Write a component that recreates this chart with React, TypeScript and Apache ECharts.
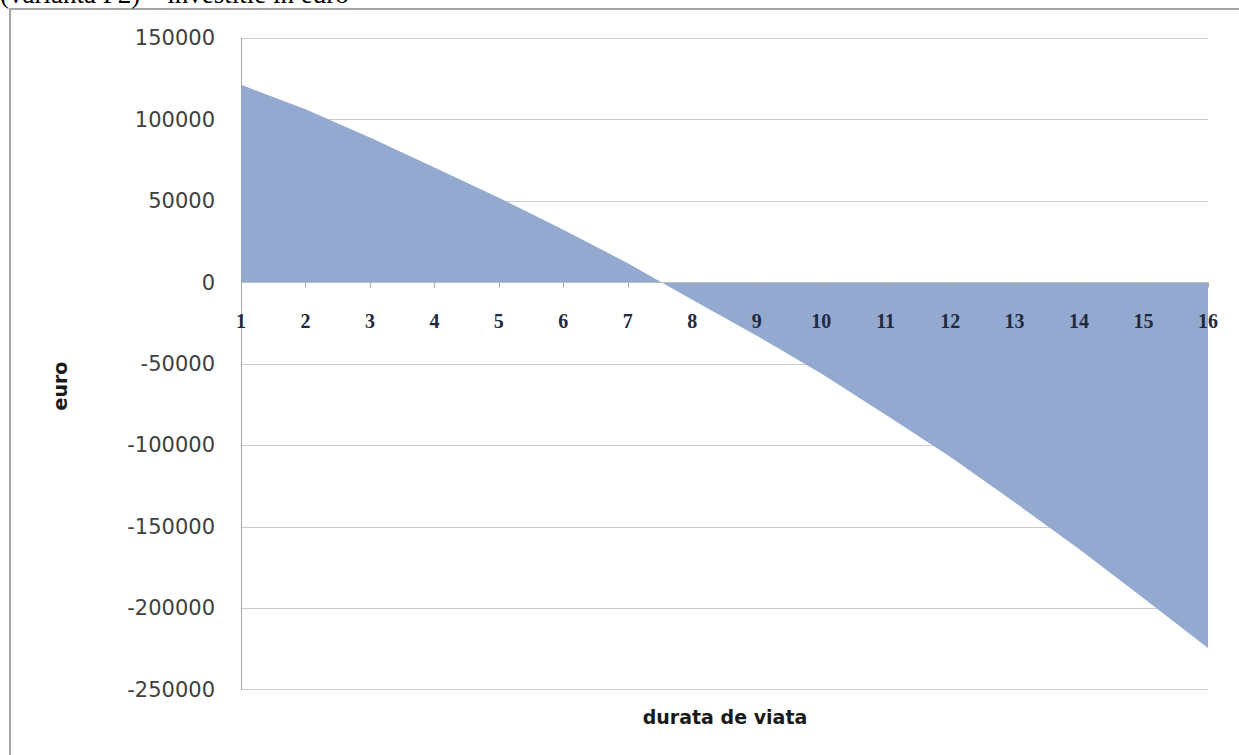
import React, { useEffect, useRef } from "react";
import * as echarts from "echarts";

const years = ["1", "2", "3", "4", "5", "6", "7", "8", "9", "10", "11", "12", "13", "14", "15", "16"];
const values = [121500, 106500, 89000, 70700, 52100, 32400, 11900, -10500, -32700, -55900, -81200, -107000, -135000, -163600, -193900, -224500];
const yTitle = "euro";
const xTitle = "durata de viata";
const topText = "(varianta P2) – investitie in euro";

const Y_MIN = -250000;
const Y_MAX = 150000;
const GRID_TOP = 38.3;
const GRID_H = 651.3;

export default function App() {
  const ref = useRef<HTMLDivElement>(null);
  useEffect(() => {
    if (!ref.current) return;
    const chart = echarts.init(ref.current, undefined, { renderer: "svg" });
    // distance from grid bottom to the zero line, so the category axis sits on zero
    const zeroOffset = (GRID_H * (0 - Y_MIN)) / (Y_MAX - Y_MIN);
    chart.setOption({
      animation: false,
      backgroundColor: "#ffffff",
      grid: { left: 241, top: GRID_TOP, width: 967, height: GRID_H, containLabel: false },
      xAxis: {
        type: "category",
        data: years,
        boundaryGap: false,
        position: "bottom",
        offset: -zeroOffset,
        z: 3,
        axisLine: { onZero: false, lineStyle: { color: "#bcbcbc", width: 1 } },
        axisTick: { show: true, length: 5, lineStyle: { color: "#a8a8a8" } },
        axisLabel: {
          margin: 28,
          fontFamily: "Liberation Serif",
          fontWeight: "bold",
          fontSize: 20,
          color: "#1f2940",
          interval: 0,
        },
        splitLine: { show: false },
      },
      yAxis: {
        type: "value",
        min: Y_MIN,
        max: Y_MAX,
        interval: 50000,
        axisLine: { show: true, lineStyle: { color: "#a8a8a8", width: 1 } },
        axisTick: { show: false },
        axisLabel: {
          margin: 26,
          fontFamily: "DejaVu Sans",
          fontSize: 21,
          color: "#404040",
          formatter: (v: number) => String(v),
        },
        splitLine: { show: true, lineStyle: { color: "#cbcbcb", width: 1.2 } },
      },
      series: [
        {
          type: "line",
          data: values,
          symbol: "none",
          lineStyle: { width: 0 },
          itemStyle: { color: "#94a9cf" },
          areaStyle: { color: "#94a9cf", opacity: 1, origin: "auto" },
          z: 2,
        },
      ],
      graphic: [
        {
          type: "rect",
          shape: { x: 10, y: 9, width: 1400, height: 900 },
          style: { fill: "none", stroke: "#8a8a8a", lineWidth: 1.5 },
          silent: true,
          z: 10,
        },
        {
          type: "text",
          x: 0,
          y: -6,
          style: {
            text: topText,
            fontFamily: "Liberation Serif",
            fontSize: 27,
            fill: "#000000",
            verticalAlign: "middle",
            align: "left",
          },
          z: 10,
        },
        {
          type: "text",
          x: 60,
          y: 386,
          rotation: Math.PI / 2,
          style: {
            text: yTitle,
            fontFamily: "DejaVu Sans",
            fontWeight: "bold",
            fontSize: 19,
            fill: "#1a1a1a",
            align: "center",
            verticalAlign: "middle",
          },
          z: 10,
        },
        {
          type: "text",
          x: 725,
          y: 717,
          style: {
            text: xTitle,
            fontFamily: "DejaVu Sans",
            fontWeight: "bold",
            fontSize: 19,
            fill: "#1a1a1a",
            align: "center",
            verticalAlign: "middle",
          },
          z: 10,
        },
      ],
    });
    return () => chart.dispose();
  }, []);
  return (
    <div
      ref={ref}
      style={{ position: "fixed", left: 0, top: 0, width: 1239, height: 755, background: "#ffffff" }}
    />
  );
}
